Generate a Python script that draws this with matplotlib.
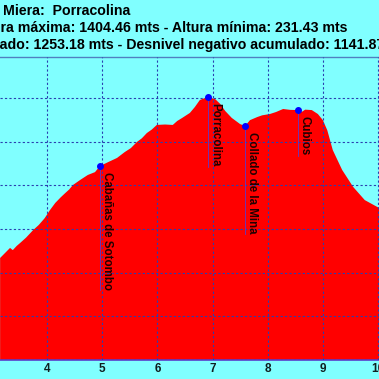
import matplotlib
matplotlib.use('Agg')
import matplotlib.pyplot as plt
from matplotlib.ticker import MultipleLocator

plt.rcParams['font.family'] = ['Liberation Sans', 'DejaVu Sans']

# ---- data (distance km, elevation m) ----
km = [3.15, 3.24, 3.33, 3.38, 3.45, 3.51, 3.62, 3.75, 3.85, 3.93, 3.96, 4.05, 4.15, 4.25,
      4.33, 4.40, 4.47, 4.60, 4.74, 4.87, 4.96,
      5.11, 5.27, 5.41, 5.52, 5.63, 5.72, 5.81, 5.90, 5.99, 6.14, 6.28, 6.36, 6.45, 6.59,
      6.68, 6.77, 6.86, 6.92,
      7.05, 7.14, 7.23, 7.35, 7.50, 7.59, 7.68, 7.81, 7.90, 8.04, 8.15, 8.28, 8.41, 8.55,
      8.62, 8.68, 8.80, 8.91, 9.00, 9.08, 9.18, 9.35, 9.55, 9.76, 10.02]
elev = [667, 690, 713, 703, 722, 735, 760, 795, 818, 841, 850, 885, 919, 945,
        964, 980, 1001, 1024, 1047, 1060, 1088,
        1106, 1125, 1152, 1170, 1198, 1215, 1239, 1255, 1276, 1278, 1276, 1294, 1308, 1331,
        1358, 1390, 1399, 1404,
        1394, 1372, 1340, 1308, 1280, 1271, 1298, 1312, 1320, 1326, 1335, 1349, 1345, 1344,
        1336, 1346, 1344, 1326, 1298, 1252, 1161, 1070, 992, 932, 896]

wp_names = ["Cabañas de Sotombo", "Porracolina", "Collado de la Mina", "Cubios"]
wp_km = [4.96, 6.92, 7.59, 8.55]
wp_elev = [1088, 1404, 1271, 1344]

x_ticks = [4, 5, 6, 7, 8, 9, 10]
y_step = 200
y_min, y_max = 200, 1587
x_min, x_max = 3.148, 10.018

title1 = "Miera:  Porracolina"
title2 = "Altura máxima: 1404.46 mts - Altura mínima: 231.43 mts"
title3 = "Desnivel positivo acumulado: 1253.18 mts - Desnivel negativo acumulado: 1141.87 mts"

W = H = 379
BG = '#80ffff'
fig = plt.figure(figsize=(3.79, 3.79), dpi=100)
fig.patch.set_facecolor(BG)
ax = fig.add_axes([0, 19 / H, 1, (360 - 57) / H])
ax.set_facecolor(BG)
ax.set_xlim(x_min, x_max)
ax.set_ylim(y_min, y_max)
ax.fill_between(km, elev, y_min, color='#ff0000', lw=0, zorder=1)
ax.set_xticks(x_ticks)
ax.yaxis.set_major_locator(MultipleLocator(y_step))
ax.grid(True, color='#2a3fb0', linestyle=(0, (2, 2)), lw=0.8, zorder=2)
ax.set_axisbelow(False)
for s in ('left', 'right'):
    ax.spines[s].set_visible(False)
ax.spines['bottom'].set_color('#5a3cc8')
ax.spines['bottom'].set_linewidth(1.2)
ax.spines['top'].set_color('#5080c0')
ax.spines['top'].set_linewidth(1.0)
ax.tick_params(axis='x', length=0, pad=2, labelsize=8.5, labelcolor='#102020')
ax.tick_params(axis='y', left=False, labelleft=False)
for lbl in ax.get_xticklabels():
    lbl.set_fontweight('bold')

ax.plot(wp_km, wp_elev, 'o', color='#0000ff', ms=4, zorder=6)
texts = []
for n, k, e in zip(wp_names, wp_km, wp_elev):
    t = ax.annotate(n, (k, e), xytext=(0.5, -4.5), textcoords='offset points',
                    rotation=-90, ha='left', va='top', fontsize=8.3,
                    fontweight='bold', color='#200000', zorder=7)
    texts.append(t)

fig.canvas.draw()
r = fig.canvas.get_renderer()
inv = ax.transData.inverted()
for t, k, e in zip(texts, wp_km, wp_elev):
    bb = t.get_window_extent(r)
    ybot = inv.transform((0, bb.y0))[1]
    ax.plot([k, k], [e, ybot], color='#5a3ad0', lw=0.6, zorder=5)

fs = 10.2
def measure(s):
    t = fig.text(0, 0, s, fontsize=fs, fontweight='bold')
    w = t.get_window_extent(r).width
    t.remove()
    return w

fig.text(3 / W, 1 - 15 / H, title1, fontsize=fs, fontweight='bold', color='black',
         ha='left', va='baseline')
w2 = measure("Altu")
fig.text((0.5 - w2) / W, 1 - 32 / H, title2, fontsize=fs, fontweight='bold', color='black',
         ha='left', va='baseline')
w3 = measure("Desnivel positivo acumul")
fig.text((0 - w3) / W, 1 - 49 / H, title3, fontsize=fs, fontweight='bold', color='black',
         ha='left', va='baseline')

fig.savefig('out.png', dpi=100, facecolor=BG)
